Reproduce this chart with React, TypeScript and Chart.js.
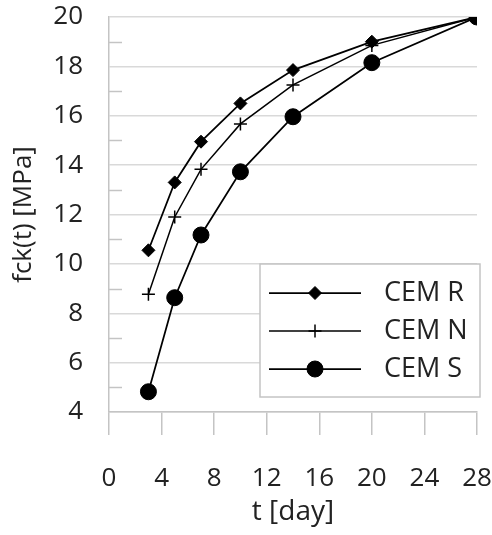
import React, { useEffect, useRef } from 'react';
import { Chart, registerables } from 'chart.js';
import { drawPoint } from 'chart.js/helpers';

Chart.register(...registerables);

// ---- data ----
const days = [3, 5, 7, 10, 14, 20, 28];
const cemR = [10.55, 13.3, 14.95, 16.5, 17.85, 19.0, 20];
const cemN = [8.77, 11.9, 13.83, 15.67, 17.25, 18.85, 20];
const cemS = [4.82, 8.63, 11.17, 13.73, 15.96, 18.15, 20];
const seriesLabels = ['CEM R', 'CEM N', 'CEM S'];
const xTitle = 't [day]';
const yTitle = 'fck(t) [MPa]';
const xMin = 0, xMax = 28, xStep = 4;
const yMin = 4, yMax = 20, yStep = 2;

const FONT = "'Open Sans', 'DejaVu Sans', sans-serif";
const TEXT = '#222222';
const AXIS = '#c4c4c4';
const GRID = '#d9d9d9';

const minorTicks = {
  id: 'minorTicks',
  afterDraw(chart: any) {
    const { ctx, chartArea } = chart;
    const ys = chart.scales.y;
    ctx.save();
    ctx.strokeStyle = AXIS;
    ctx.lineWidth = 1.5;
    for (let v = yMin + yStep / 2; v < yMax; v += yStep) {
      const py = Math.round(ys.getPixelForValue(v)) + 0.5;
      ctx.beginPath();
      ctx.moveTo(chartArea.left, py);
      ctx.lineTo(chartArea.left + 13, py);
      ctx.stroke();
    }
    ctx.restore();
  },
};

const legendBox = {
  id: 'legendBox',
  afterDatasetsDraw(chart: any) {
    const { ctx, chartArea } = chart;
    const w = 220, h = 133;
    const x = chartArea.right + 3 - w;
    const y = chartArea.bottom - 15 - h;
    ctx.save();
    ctx.fillStyle = '#ffffff';
    ctx.fillRect(x, y, w, h);
    ctx.strokeStyle = AXIS;
    ctx.lineWidth = 1.5;
    ctx.strokeRect(x, y, w, h);
    chart.data.datasets.forEach((ds: any, i: number) => {
      const cy = y + 29 + i * 38;
      ctx.strokeStyle = '#000';
      ctx.lineWidth = ds.borderWidth;
      ctx.beginPath();
      ctx.moveTo(x + 9, cy);
      ctx.lineTo(x + 101, cy);
      ctx.stroke();
      ctx.fillStyle = '#000';
      ctx.strokeStyle = '#000';
      ctx.lineWidth = ds.pointBorderWidth;
      drawPoint(ctx, { pointStyle: ds.pointStyle, radius: ds.pointRadius, rotation: 0, borderWidth: ds.pointBorderWidth } as any, x + 55, cy);
      ctx.fillStyle = TEXT;
      ctx.font = `27px ${FONT}`;
      ctx.textAlign = 'left';
      ctx.textBaseline = 'middle';
      ctx.fillText(ds.label, x + 124, cy);
    });
    ctx.restore();
  },
};

export default function App() {
  const ref = useRef<HTMLCanvasElement>(null);
  useEffect(() => {
    if (!ref.current) return;
    const mk = (vals: number[]) => days.map((d, i) => ({ x: d, y: vals[i] }));
    const chart = new Chart(ref.current, {
      type: 'line',
      data: {
        datasets: [
          { label: seriesLabels[0], data: mk(cemR), borderColor: '#000', backgroundColor: '#000', borderWidth: 1.75, pointStyle: 'rectRot', pointRadius: 6.5, pointBorderWidth: 1, pointBackgroundColor: '#000', pointBorderColor: '#000' },
          { label: seriesLabels[1], data: mk(cemN), borderColor: '#000', backgroundColor: '#000', borderWidth: 1.5, pointStyle: 'cross', pointRadius: 6.5, pointBorderWidth: 1.5, pointBackgroundColor: '#000', pointBorderColor: '#000' },
          { label: seriesLabels[2], data: mk(cemS), borderColor: '#000', backgroundColor: '#000', borderWidth: 1.75, pointStyle: 'circle', pointRadius: 8, pointBorderWidth: 1, pointBackgroundColor: '#000', pointBorderColor: '#000' },
        ] as any,
      },
      options: {
        animation: false,
        responsive: false,
        layout: { padding: { top: 17, right: 15, left: 0, bottom: 0 } },
        plugins: { legend: { display: false }, tooltip: { enabled: false } },
        scales: {
          x: {
            type: 'linear',
            min: xMin,
            max: xMax,
            ticks: { stepSize: xStep, font: { family: FONT, size: 26 }, color: TEXT, padding: 28, maxRotation: 0, autoSkip: false },
            grid: { drawOnChartArea: false, drawTicks: true, tickLength: 23, color: AXIS, lineWidth: 1.5 },
            border: { color: AXIS, width: 1.5 },
            title: { display: true, text: xTitle, font: { family: FONT, size: 28, lineHeight: 1.2 }, color: TEXT, padding: { top: 4, bottom: 6 } },
            afterFit: (s: any) => { s.height = 123; s.paddingLeft = 0; s.paddingRight = 15; },
          },
          y: {
            type: 'linear',
            min: yMin,
            max: yMax,
            ticks: { stepSize: yStep, font: { family: FONT, size: 26 }, color: TEXT, padding: 26, autoSkip: false },
            grid: { drawTicks: false, color: GRID, lineWidth: 1.5 },
            border: { color: AXIS, width: 1.5 },
            title: { display: true, text: yTitle, font: { family: FONT, size: 26, lineHeight: 1.2 }, color: TEXT, padding: { top: 8, bottom: 0 } },
            afterFit: (s: any) => { s.width = 109; s.paddingTop = 16; s.paddingBottom = 0; },
          },
        },
      } as any,
      plugins: [minorTicks, legendBox],
    });
    return () => chart.destroy();
  }, []);
  return (
    <div style={{ position: 'absolute', left: 0, top: 0, width: 492, height: 535 }}>
      <canvas ref={ref} width={492} height={535} style={{ display: 'block' }} />
    </div>
  );
}
